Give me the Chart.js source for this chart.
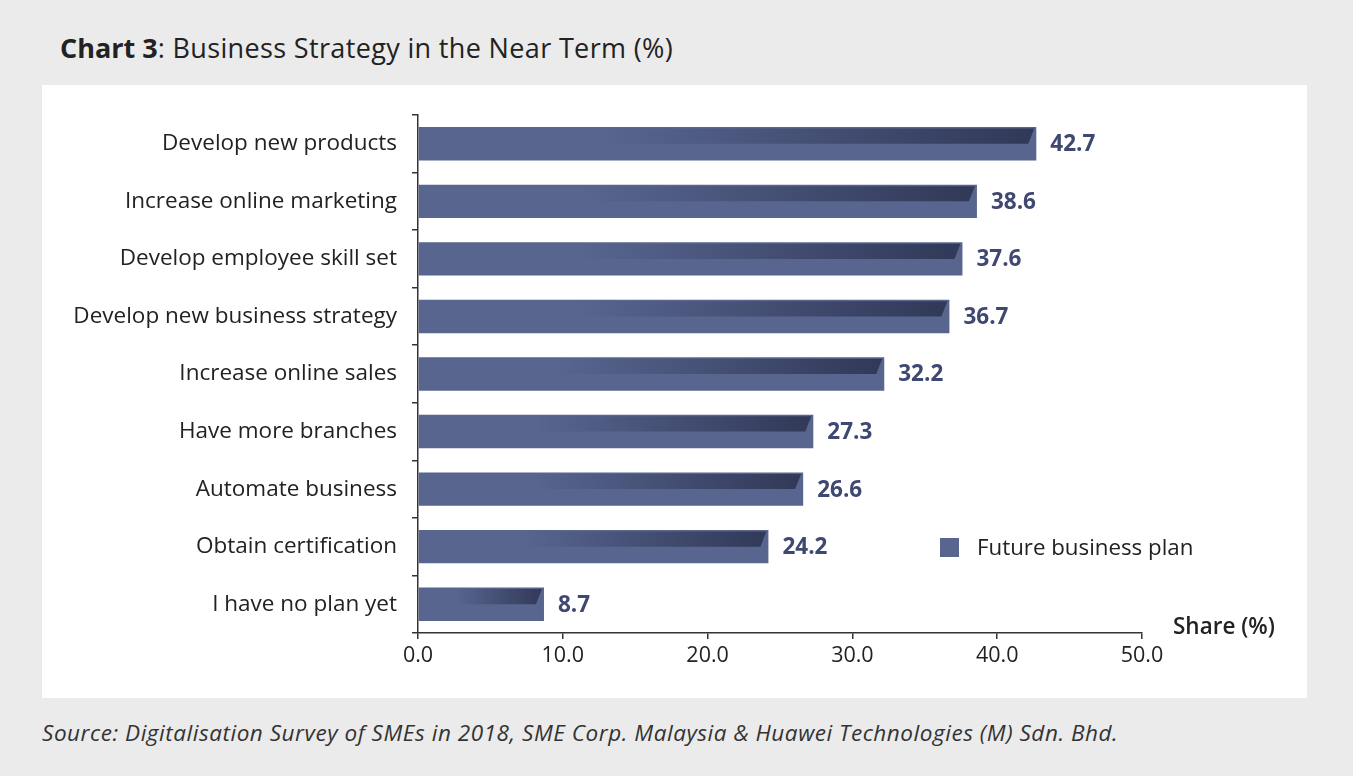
<!DOCTYPE html>
<html><head><meta charset="utf-8">
<script src="https://cdn.jsdelivr.net/npm/chart.js@4.4.1/dist/chart.umd.min.js"></script>
<style>
html,body{margin:0;padding:0;background:#ebebeb;width:1353px;height:776px;overflow:hidden;font-family:"Open Sans",sans-serif;}
#title{position:absolute;left:60px;top:28px;font-size:27px;letter-spacing:0.35px;color:#222;white-space:nowrap;line-height:40px;}
#title b{font-weight:700;letter-spacing:0;}
#panel{position:absolute;left:42px;top:85px;width:1265px;height:613px;background:#fff;}
#wrap{position:absolute;left:0;top:0;width:1265px;height:613px;}
#legend{position:absolute;left:898px;top:446px;display:flex;align-items:center;font-size:22.3px;color:#222;white-space:nowrap;line-height:32px;}
#legend span.sw{display:inline-block;width:19px;height:19px;background:#57658f;margin-right:18px;}
#axt{position:absolute;left:1131px;top:525px;font-size:22.5px;font-weight:600;color:#222;white-space:nowrap;line-height:32px;}
#source{position:absolute;left:42px;top:717px;font-size:22.5px;letter-spacing:0.54px;font-style:italic;color:#333;white-space:nowrap;line-height:32px;}
</style></head>
<body>
<div id="title"><b>Chart 3</b>: Business Strategy in the Near Term (%)</div>
<div id="panel">
  <div id="wrap"><canvas id="c" width="1265" height="613"></canvas></div>
  <div id="legend"><span class="sw"></span><span id="legendText"></span></div>
  <div id="axt"></div>
</div>
<div id="source">Source: Digitalisation Survey of SMEs in 2018, SME Corp. Malaysia &amp; Huawei Technologies (M) Sdn. Bhd.</div>
<script>
const categories = ["Develop new products","Increase online marketing","Develop employee skill set","Develop new business strategy","Increase online sales","Have more branches","Automate business","Obtain certification","I have no plan yet"];
const values = [42.7,38.6,37.6,36.7,32.2,27.3,26.6,24.2,8.7];
const seriesName = "Future business plan";
const axisTitle = "Share (%)";
const xTicks = [0,10,20,30,40,50];

document.getElementById('legendText').textContent = seriesName;
document.getElementById('axt').textContent = axisTitle;

const FONT = '"Open Sans", sans-serif';
const BAR = '#57658f';

const shadePlugin = {
  id:'shade',
  afterDatasetsDraw(chart){
    const ctx = chart.ctx;
    const meta = chart.getDatasetMeta(0);
    meta.data.forEach((el,i)=>{
      const left = el.base, right = el.x, top = el.y - el.height/2, h = el.height;
      const len = right-left;
      const t = top+1.5, b = top + h*0.5;
      const g = ctx.createLinearGradient(left + len*0.3, 0, right, 0);
      g.addColorStop(0,'rgba(45,52,82,0)');
      g.addColorStop(0.6,'rgba(45,52,82,0.55)');
      g.addColorStop(1,'rgba(45,52,82,0.9)');
      ctx.save();
      ctx.beginPath();
      ctx.moveTo(left+2,t);
      ctx.lineTo(right-2,t);
      ctx.lineTo(right-8,b);
      ctx.lineTo(left+2,b);
      ctx.closePath();
      ctx.fillStyle=g;
      ctx.fill();
      ctx.fillStyle='#3e4871';
      ctx.font='bold 22.5px '+FONT;
      ctx.textAlign='left';
      ctx.textBaseline='middle';
      ctx.fillText(values[i].toFixed(1), right+14, el.y+1);
      ctx.restore();
    });
  }
};

new Chart(document.getElementById('c'),{
  type:'bar',
  data:{labels:categories,datasets:[{label:seriesName,data:values,backgroundColor:BAR,borderWidth:0,categoryPercentage:1,barPercentage:0.58}]},
  options:{
    indexAxis:'y',
    responsive:false,
    animation:false,
    layout:{padding:{left:0,top:30,right:165,bottom:0}},
    plugins:{legend:{display:false},tooltip:{enabled:false}},
    scales:{
      x:{
        min:0,max:50,
        afterBuildTicks(s){ s.ticks = xTicks.map(v=>({value:v})); },
        afterFit(s){ s.height = 65; },
        border:{display:true,color:'#333',width:1.5},
        grid:{drawOnChartArea:false,drawTicks:true,tickLength:6,color:'#333',lineWidth:1.5},
        ticks:{padding:4,color:'#222',font:{family:FONT,size:21.5},callback:(v)=>Number(v).toFixed(1)}
      },
      y:{
        afterFit(s){ s.width = 376; },
        border:{display:true,color:'#333',width:1.5},
        grid:{offset:true,drawOnChartArea:false,drawTicks:true,tickLength:6,color:'#333',lineWidth:1.5},
        ticks:{padding:15,color:'#222',font:{family:FONT,size:22.5}}
      }
    }
  },
  plugins:[shadePlugin]
});
</script>
</body></html>
